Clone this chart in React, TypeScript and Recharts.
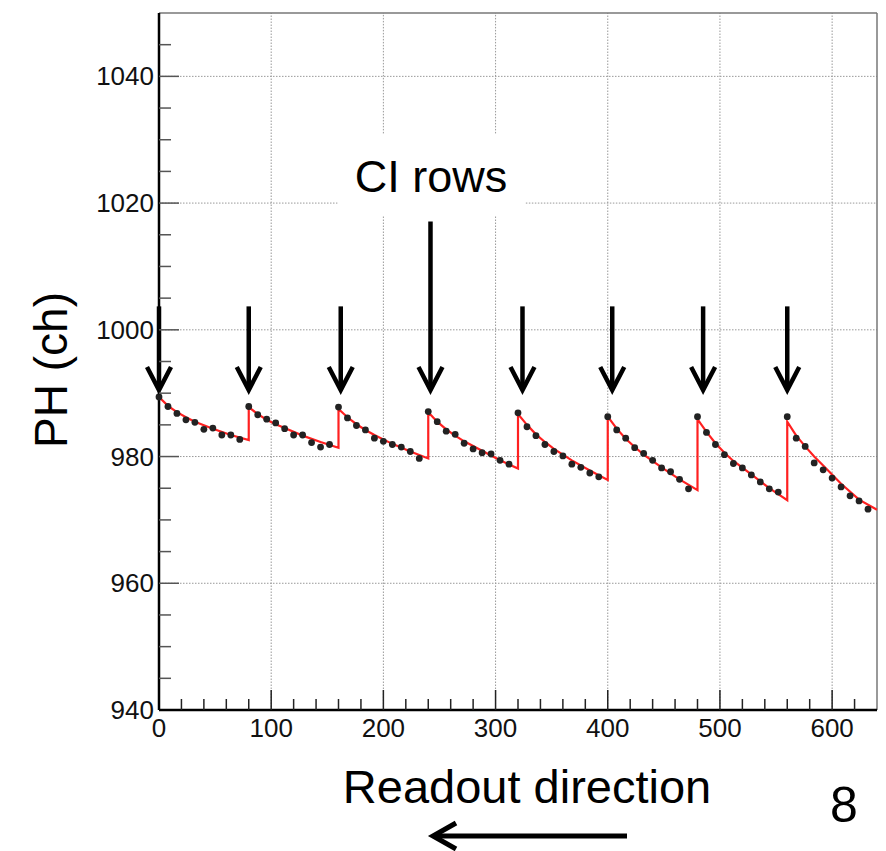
import React from 'react';
import {
  ComposedChart,
  XAxis,
  YAxis,
  Scatter,
  Line,
  ReferenceLine,
} from 'recharts';

// ---- data ----
const pointX = [
  0, 8, 16, 24, 32, 40, 48, 56, 64, 72,
  80, 88, 96, 104, 112, 120, 128, 136, 144, 152,
  160, 168, 176, 184, 192, 200, 208, 216, 224, 232,
  240, 248, 256, 264, 272, 280, 288, 296, 304, 312,
  320, 328, 336, 344, 352, 360, 368, 376, 384, 392,
  400, 408, 416, 424, 432, 440, 448, 456, 464, 472,
  480, 488, 496, 504, 512, 520, 528, 536, 544, 552,
  560, 568, 576, 584, 592, 600, 608, 616, 624, 632,
];
const pointY = [
  989.4, 987.9, 986.8, 985.8, 985.4, 984.3, 984.5, 983.4, 983.4, 982.7,
  987.9, 986.6, 985.9, 985.3, 984.4, 983.4, 983.4, 982.2, 981.5, 981.9,
  987.8, 986.1, 984.9, 984.2, 982.9, 982.4, 981.9, 981.5, 980.8, 979.7,
  987.1, 985.5, 984.0, 983.5, 982.1, 981.2, 980.6, 980.4, 979.4, 978.8,
  986.9, 984.7, 983.3, 981.9, 980.8, 980.1, 978.8, 978.3, 977.4, 976.8,
  986.3, 984.2, 982.9, 981.4, 980.5, 979.4, 978.2, 977.6, 976.4, 974.9,
  986.3, 983.8, 981.9, 980.3, 978.9, 978.2, 977.1, 976.0, 974.9, 974.4,
  986.3, 982.9, 981.6, 979.0, 977.9, 976.6, 975.2, 973.8, 973.0, 971.7,
];

const fitX = [
  0, 8, 16, 24, 32, 48, 64, 80,
  80, 88, 96, 104, 112, 128, 144, 160,
  160, 168, 176, 184, 192, 208, 224, 240,
  240, 248, 256, 264, 272, 288, 304, 320,
  320, 328, 336, 344, 352, 368, 384, 400,
  400, 408, 416, 424, 432, 448, 464, 480,
  480, 488, 496, 504, 512, 528, 544, 560,
  560, 568, 576, 584, 592, 608, 624, 640,
];
const fitY = [
  989.4, 988.0, 987.0, 986.2, 985.5, 984.4, 983.4, 982.6,
  987.8, 986.7, 985.8, 985.1, 984.5, 983.3, 982.3, 981.4,
  987.5, 986.2, 985.1, 984.2, 983.4, 982.0, 980.8, 979.7,
  987.0, 985.5, 984.3, 983.3, 982.4, 980.9, 979.4, 978.1,
  986.7, 985.0, 983.5, 982.3, 981.2, 979.4, 977.8, 976.3,
  986.3, 984.4, 982.8, 981.5, 980.3, 978.3, 976.4, 974.7,
  985.9, 983.9, 982.1, 980.6, 979.3, 977.2, 975.0, 973.1,
  985.5, 983.3, 981.6, 980.0, 978.6, 975.7, 973.2, 971.6,
];

const xTickValues = [
  0, 20, 40, 60, 80, 100, 120, 140, 160, 180, 200, 220, 240, 260, 280, 300,
  320, 340, 360, 380, 400, 420, 440, 460, 480, 500, 520, 540, 560, 580, 600, 620,
];
const xMajorTicks = [0, 100, 200, 300, 400, 500, 600];
const xGridTicks = [100, 200, 300, 400, 500, 600];

const yTickValues = [
  940, 945, 950, 955, 960, 965, 970, 975, 980, 985, 990, 995, 1000,
  1005, 1010, 1015, 1020, 1025, 1030, 1035, 1040, 1045,
];
const yMajorTicks = [940, 960, 980, 1000, 1020, 1040];
const yGridTicks = [960, 980, 1000, 1020, 1040];

const xDomain = [0, 640];
const yDomain = [940, 1050];

// annotation arrows ("CI rows")
const arrowX = [0, 80, 162, 242, 324, 404, 485, 560];
const arrowTop = [1003.7, 1003.7, 1003.7, 1017.1, 1003.7, 1003.7, 1003.7, 1003.7];
const arrowTip = [990.5, 990.5, 990.5, 990.5, 990.5, 990.5, 990.5, 990.5];

// blank box around the "CI rows" label (grid lines stop at it)
const labelBox = { x1: 159, x2: 327, y1: 1018, y2: 1031 };

const FONT = '"Liberation Sans", Arial, Helvetica, sans-serif';

const points = pointX.map((x, i) => ({ x, y: pointY[i] }));
const fit = fitX.map((x, i) => ({ x, y: fitY[i] }));
const arrowTips = arrowX.map((x, i) => ({ x, y: arrowTip[i] }));

// grid segments, split where they cross the label box
type Seg = [{ x: number; y: number }, { x: number; y: number }];
const gridSegments: Seg[] = [];
xGridTicks.forEach((v) => {
  if (v > labelBox.x1 && v < labelBox.x2) {
    gridSegments.push([{ x: v, y: yDomain[0] }, { x: v, y: labelBox.y1 }]);
    gridSegments.push([{ x: v, y: labelBox.y2 }, { x: v, y: yDomain[1] }]);
  } else {
    gridSegments.push([{ x: v, y: yDomain[0] }, { x: v, y: yDomain[1] }]);
  }
});
yGridTicks.forEach((v) => {
  if (v > labelBox.y1 && v < labelBox.y2) {
    gridSegments.push([{ x: xDomain[0], y: v }, { x: labelBox.x1, y: v }]);
    gridSegments.push([{ x: labelBox.x2, y: v }, { x: xDomain[1], y: v }]);
  } else {
    gridSegments.push([{ x: xDomain[0], y: v }, { x: xDomain[1], y: v }]);
  }
});

const XTick = (props: any) => {
  const { x, y, payload } = props;
  const v = payload.value;
  const major = xMajorTicks.includes(v);
  return (
    <g>
      {v !== 0 && (
        <line x1={x} x2={x} y1={y} y2={y - (major ? 20 : 11)} stroke="#222" strokeWidth={1.5} />
      )}
      {major && (
        <text x={x} y={y + 27} textAnchor="middle" fontSize={26} fontFamily={FONT} fill="#111">
          {v}
        </text>
      )}
    </g>
  );
};

const YTick = (props: any) => {
  const { x, y, payload } = props;
  const v = payload.value;
  const major = yMajorTicks.includes(v);
  return (
    <g>
      {v !== 940 && (
        <line x1={x} x2={x + (major ? 20 : 12)} y1={y} y2={y} stroke="#555" strokeWidth={1.5} />
      )}
      {major && (
        <text x={x - 5} y={y + 9} textAnchor="end" fontSize={26} fontFamily={FONT} fill="#111">
          {v}
        </text>
      )}
    </g>
  );
};

const Dot = (props: any) => {
  const { cx, cy } = props;
  return <circle cx={cx} cy={cy} r={3.4} fill="#222" />;
};

const ArrowHead = (props: any) => {
  const { cx, cy } = props;
  return (
    <path
      d={`M ${cx - 12} ${cy - 23} L ${cx} ${cy} L ${cx + 12} ${cy - 23}`}
      stroke="#000"
      strokeWidth={4.5}
      fill="none"
      strokeLinejoin="miter"
    />
  );
};

export default function App() {
  return (
    <div style={{ position: 'relative', width: 886, height: 851, background: '#fff' }}>
      <style>{'body{margin:0;background:#fff}'}</style>
      <ComposedChart
        width={886}
        height={851}
        margin={{ top: 13, right: 9, left: 0, bottom: 0 }}
      >
        <XAxis
          type="number"
          dataKey="x"
          domain={xDomain}
          ticks={xTickValues}
          interval={0}
          tickLine={false}
          tickSize={0}
          tickMargin={0}
          tick={<XTick />}
          axisLine={{ stroke: '#000', strokeWidth: 2.5 }}
          height={141}
        />
        <YAxis
          type="number"
          domain={yDomain}
          ticks={yTickValues}
          interval={0}
          tickLine={false}
          tickSize={0}
          tickMargin={0}
          tick={<YTick />}
          axisLine={{ stroke: '#000', strokeWidth: 2.5 }}
          width={159}
        />
        {gridSegments.map((seg, i) => (
          <ReferenceLine
            key={'grid' + i}
            segment={seg}
            stroke="#999"
            strokeWidth={1}
            strokeDasharray="1.5 1.5"
            ifOverflow="visible"
          />
        ))}
        <ReferenceLine y={1050} stroke="#777" strokeWidth={1.5} ifOverflow="visible" />
        <ReferenceLine x={640} stroke="#777" strokeWidth={1.5} ifOverflow="visible" />
        {arrowX.map((x, i) => (
          <ReferenceLine
            key={'shaft' + i}
            segment={[
              { x, y: arrowTop[i] },
              { x, y: arrowTip[i] + 0.3 },
            ]}
            stroke="#000"
            strokeWidth={4.5}
            ifOverflow="visible"
          />
        ))}
        <Line
          data={fit}
          dataKey="y"
          type="linear"
          stroke="#ff2020"
          strokeWidth={2.2}
          dot={false}
          isAnimationActive={false}
        />
        <Scatter data={points} dataKey="y" shape={<Dot />} isAnimationActive={false} />
        <Scatter data={arrowTips} dataKey="y" shape={<ArrowHead />} isAnimationActive={false} />
      </ComposedChart>
      <svg
        width={886}
        height={851}
        style={{ position: 'absolute', left: 0, top: 0, pointerEvents: 'none' }}
      >
        <text x={431} y={192} textAnchor="middle" fontSize={45} fontFamily={FONT} fill="#000">
          CI rows
        </text>
        <text
          transform="translate(67,370) rotate(-90)"
          textAnchor="middle"
          fontSize={46}
          fontFamily={FONT}
          fill="#000"
        >
          PH (ch)
        </text>
        <text x={527} y={803} textAnchor="middle" fontSize={47} fontFamily={FONT} fill="#000">
          Readout direction
        </text>
        <text x={844} y={822} textAnchor="middle" fontSize={50} fontFamily={FONT} fill="#000">
          8
        </text>
        <line x1={436} x2={627} y1={836} y2={836} stroke="#000" strokeWidth={5} />
        <path d="M 456 823 L 433 836 L 456 849" stroke="#000" strokeWidth={5} fill="none" />
      </svg>
    </div>
  );
}
